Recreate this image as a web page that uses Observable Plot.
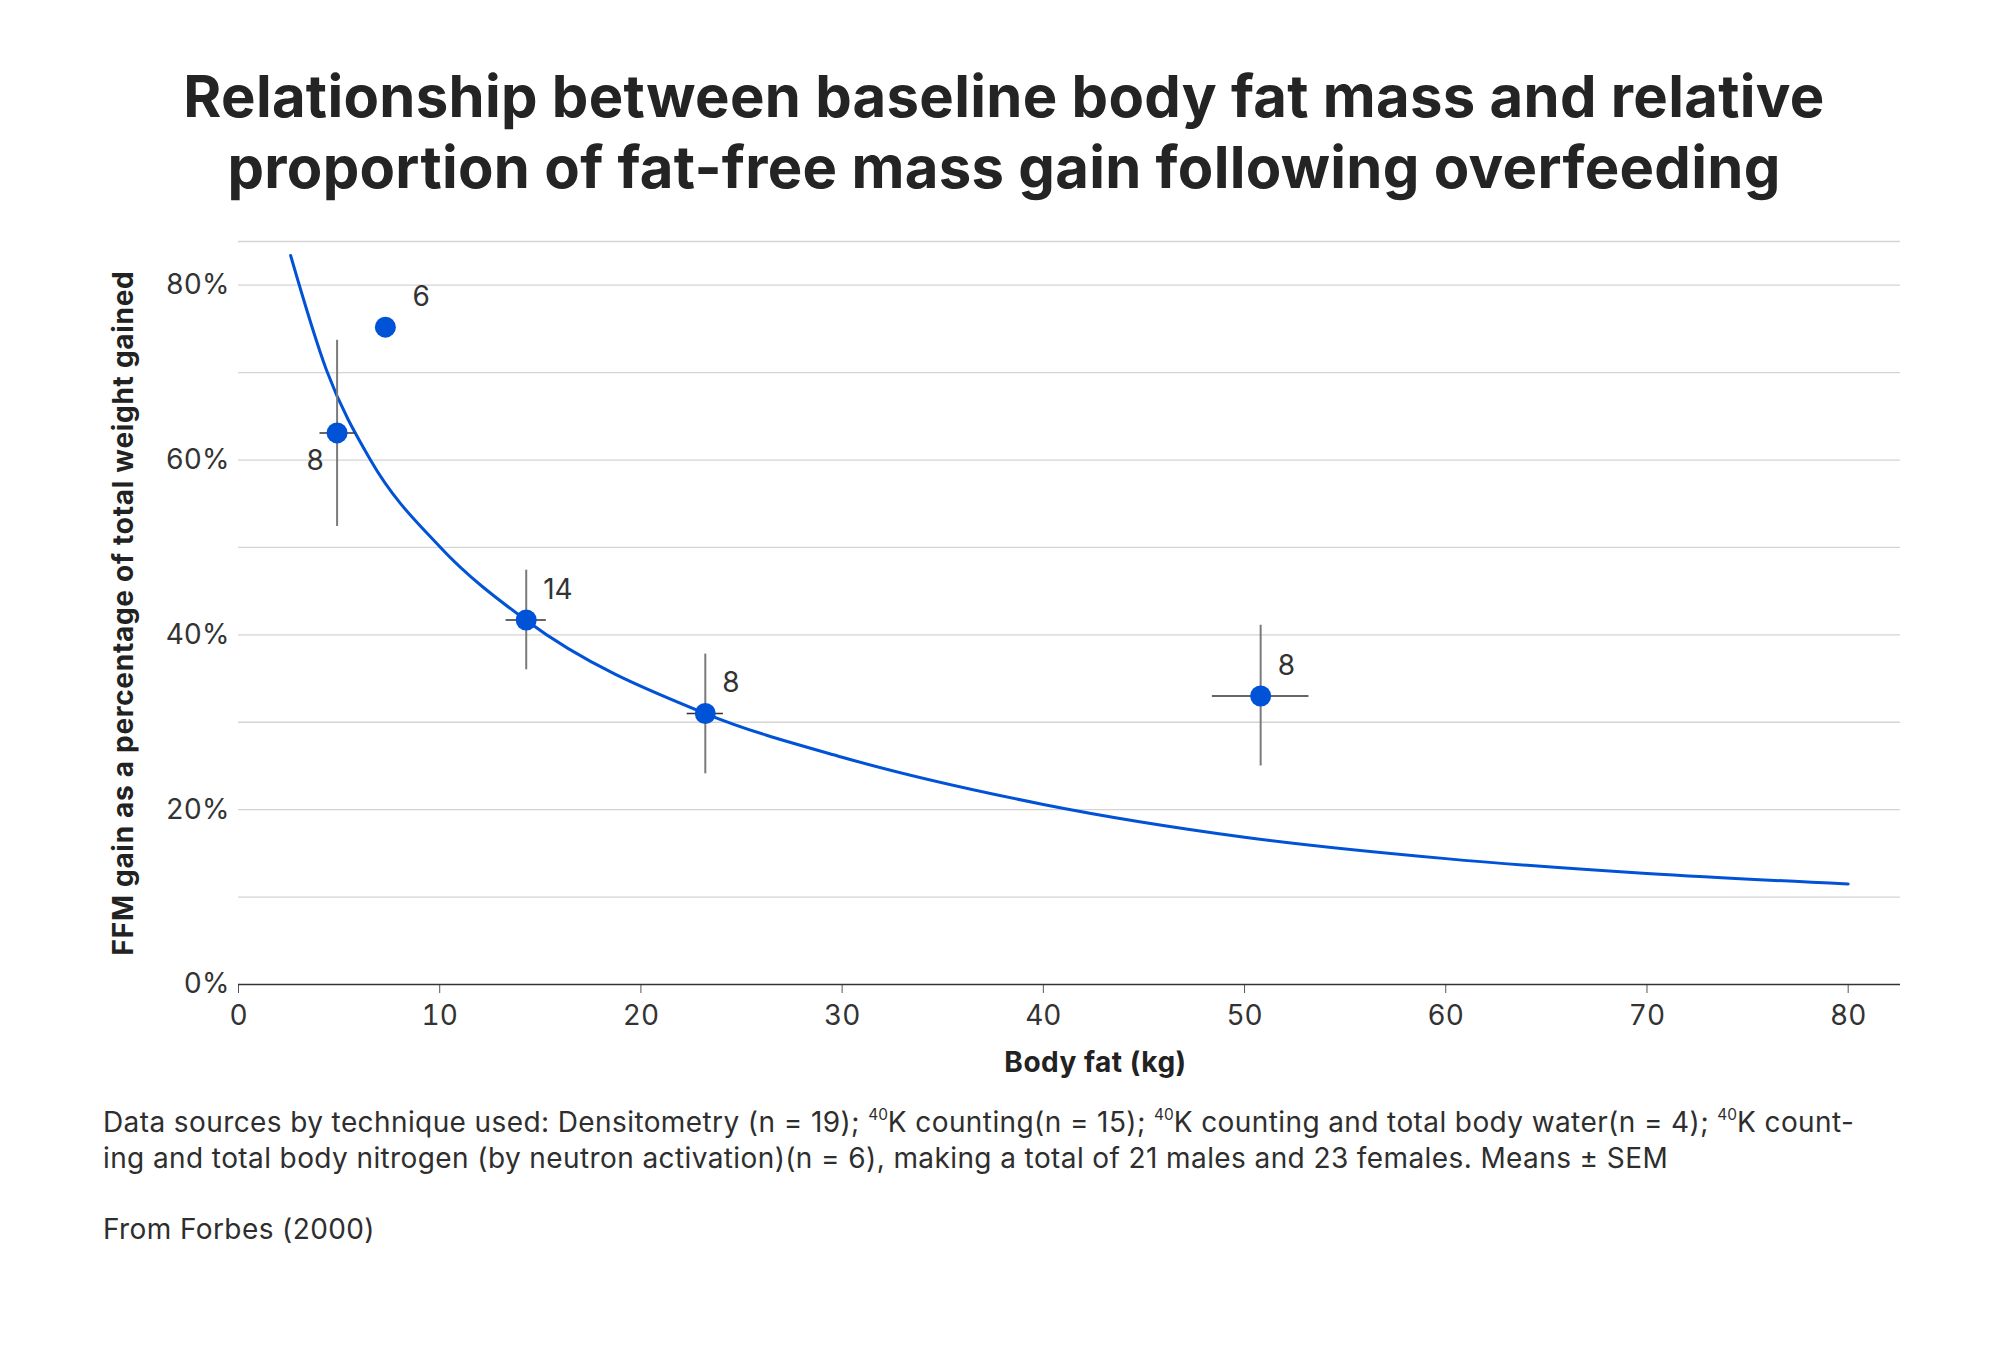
<!DOCTYPE html>
<html>
<head>
<meta charset="utf-8">
<script src="https://cdn.jsdelivr.net/npm/d3@7"></script>
<script src="https://cdn.jsdelivr.net/npm/@observablehq/plot@0.6"></script>
<style>
  html, body { margin: 0; padding: 0; background: #fff; }
  #page { position: relative; width: 1999px; height: 1352px; font-family: Inter, "Noto Sans", sans-serif; color: #2a2a2a; }
  #title { position: absolute; top: 61px; left: 9px; width: 1990px; text-align: center; font-size: 58px; line-height: 71px; font-weight: 700; color: #242424; letter-spacing: 0.3px; }
  #chart { position: absolute; top: 230px; left: 0; }
  #caption { position: absolute; top: 1105px; left: 103px; font-size: 28px; line-height: 35.6px; color: #2e2e2e; white-space: nowrap; letter-spacing: 0.4px; }
  #caption sup { font-size: 0.55em; vertical-align: 0.75em; line-height: 0; letter-spacing: 0; }
</style>
</head>
<body>
<div id="page">
  <div id="title">Relationship between baseline body fat mass and relative<br>proportion of fat-free mass gain following overfeeding</div>
  <div id="chart"></div>
  <div id="caption">Data sources by technique used: Densitometry (n = 19); <sup>40</sup>K counting(n = 15); <sup>40</sup>K counting and total body water(n = 4); <sup>40</sup>K count-<br>ing and total body nitrogen (by neutron activation)(n = 6), making a total of 21 males and 23 females. Means ± SEM<br><br>From Forbes (2000)</div>
</div>
<script>
// Group means (points)
const fatMass   = [4.9, 7.3, 14.3, 23.2, 50.8];          // kg
const ffmShare  = [0.631, 0.752, 0.417, 0.310, 0.330];   // fraction
const fatLow    = [4.05, null, 13.3, 22.3, 48.4];
const fatHigh   = [5.8,  null, 15.3, 24.1, 53.2];
const shareLow  = [0.524, null, 0.360, 0.241, 0.250];
const shareHigh = [0.737, null, 0.474, 0.378, 0.411];
const groupN    = ["8", "6", "14", "8", "8"];

// Fitted curve, points
const curveFat   = [2.59, 4.38, 6.56, 10.04, 14.27, 23.2, 30, 40, 50, 60, 70, 80];
const curveShare = [0.834, 0.7025, 0.600, 0.500, 0.417, 0.310, 0.260, 0.206, 0.1685, 0.144, 0.127, 0.115];

// Axis ticks
const xTicks = [0, 10, 20, 30, 40, 50, 60, 70, 80];
const yTicks = [0, 0.2, 0.4, 0.6, 0.8];
const gridTicks = [0.1, 0.2, 0.3, 0.4, 0.5, 0.6, 0.7, 0.8, 0.85];

const points = fatMass.map((f, i) => ({
  id: i, fat: f, share: ffmShare[i],
  fatLow: fatLow[i], fatHigh: fatHigh[i],
  shareLow: shareLow[i], shareHigh: shareHigh[i],
  n: groupN[i]
}));
const curve = curveFat.map((f, i) => ({fat: f, share: curveShare[i]}));
const withErr = (d) => d.fatLow != null;

const blue = "#0052d6";

const chart = Plot.plot({
  width: 1999,
  height: 854,
  marginLeft: 238,
  marginRight: 99,
  marginTop: 11,
  marginBottom: 100,
  style: {fontFamily: "Inter, 'Noto Sans', sans-serif", fontSize: "28px", color: "#333", background: "#fff"},
  x: {domain: [0, 82.6]},
  y: {domain: [0, 0.85]},
  marks: [
    Plot.gridY(gridTicks, {stroke: "#d4d4d4", strokeOpacity: 1, strokeWidth: 1.3}),
    Plot.axisY(yTicks, {tickSize: 0, tickPadding: 9, tickFormat: d3.format(".0%"), label: null, fill: "#333"}),
    Plot.axisX(xTicks, {tickSize: 9, tickPadding: 12, label: null, stroke: "#555", fill: "#333"}),
    Plot.ruleY([0], {stroke: "#333", strokeWidth: 1.6}),
    Plot.line(curve, {x: "fat", y: "share", stroke: blue, strokeWidth: 3, curve: "monotone-x"}),
    Plot.ruleX(points, {filter: withErr, x: "fat", y1: "shareLow", y2: "shareHigh", stroke: "#7a7a7a", strokeWidth: 2}),
    Plot.ruleY(points, {filter: withErr, y: "share", x1: "fatLow", x2: "fatHigh", stroke: "#333", strokeWidth: 1.5}),
    Plot.dot(points, {x: "fat", y: "share", r: 10.5, fill: blue, stroke: "none"}),
    Plot.text(points, {filter: (d) => d.id === 0, x: "fat", y: "share", text: "n", dx: -22, dy: 28, textAnchor: "middle", fill: "#333"}),
    Plot.text(points, {filter: (d) => d.id === 1, x: "fat", y: "share", text: "n", dx: 27, dy: -30, textAnchor: "start", fill: "#333"}),
    Plot.text(points, {filter: (d) => d.id >= 2, x: "fat", y: "share", text: "n", dx: 17, dy: -30, textAnchor: "start", fill: "#333"}),
    Plot.text(["FFM gain as a percentage of total weight gained"], {frameAnchor: "left", rotate: -90, dx: -114, textAnchor: "middle", lineAnchor: "middle", fontWeight: "bold", fontSize: 28, fill: "#222"}),
    Plot.text(["Body fat (kg)"], {frameAnchor: "bottom", dx: 26, dy: 79, textAnchor: "middle", lineAnchor: "middle", fontWeight: "bold", fontSize: 28, fill: "#222"})
  ]
});
// letter spacing for the axis titles
d3.select(chart).selectAll("text").filter(function () { return this.textContent.startsWith("FFM gain"); }).style("letter-spacing", "0.7px");
d3.select(chart).selectAll("text").filter(function () { return this.textContent === "Body fat (kg)"; }).style("letter-spacing", "0.5px");
document.getElementById("chart").appendChild(chart);
</script>
</body>
</html>
